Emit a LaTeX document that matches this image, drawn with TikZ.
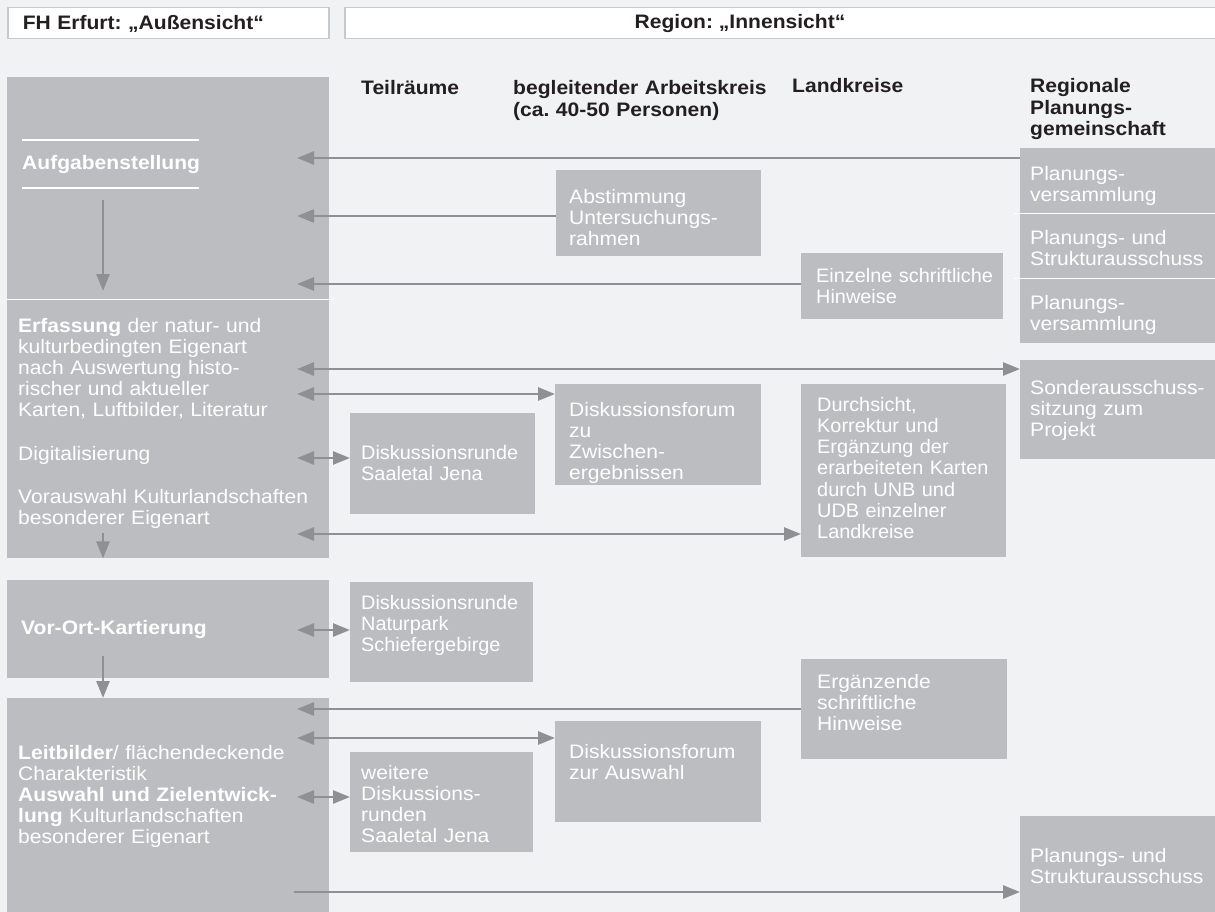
\documentclass[tikz,border=0pt]{standalone}
\usepackage{fontspec}
\setmainfont{Liberation Sans}[FakeStretch=1.08]
\newfontfamily\narrowsans{Liberation Sans}[FakeStretch=1.02]
\usepackage{tikz}
\usetikzlibrary{arrows.meta}
\hyphenpenalty=10000
\frenchspacing

\definecolor{boxgray}{HTML}{BCBDC0}
\definecolor{linegray}{HTML}{8F9094}
\definecolor{backgray}{HTML}{F1F2F4}
\definecolor{framegray}{HTML}{C8C9CB}
\definecolor{headdark}{HTML}{231F20}

\newcommand\hdfont{\fontsize{19.5}{21.2}\selectfont\bfseries}
\newcommand\nwfont{\narrowsans\fontsize{19.5}{21.2}\selectfont}

\begin{document}
\begin{tikzpicture}[x=1pt,y=-1pt,font=\fontsize{19.5}{21.2}\selectfont]

\tikzstyle{head}=[rectangle,draw=framegray,fill=white,line width=1.5pt,inner sep=0pt,anchor=north west,minimum height=31pt]
\tikzstyle{headtext}=[inner sep=0pt,text=headdark,font=\hdfont]
\tikzstyle{coltitle}=[headtext,anchor=base west,text width=260pt,align=left]
\tikzstyle{phase}=[rectangle,fill=boxgray,inner sep=0pt,anchor=north west,minimum width=322pt]
\tikzstyle{phasetext}=[anchor=base west,inner sep=0pt,text width=300pt,align=left,text=white]
\tikzstyle{talk}=[rectangle,fill=boxgray,text=white,align=left,anchor=north west,inner ysep=0pt]
\tikzstyle{rpg}=[talk,text width=180pt,inner xsep=10pt]
\tikzstyle{sep}=[draw=white,line width=1.5pt]
\tikzstyle{arr}=[draw=linegray,line width=2.6pt,>={Triangle[length=17pt,width=13pt]}]

\useasboundingbox (0,0) rectangle (1215,912);
\fill[backgray] (0,0) rectangle (1215,912);

\node[head,text width=291pt,inner xsep=15pt,text height=22pt,text depth=9pt,font=\hdfont,text=headdark] (fhhead) at (7,7) {FH Erfurt: „Außensicht“};
\node[head,minimum width=881pt] (reghead) at (344,7) {};
\node[headtext,anchor=base] (regtxt) at (740,29) {Region: „Innensicht“};

\node[coltitle] (teil) at (361,95) {Teilräume};
\node[coltitle] (akreis) at (513,95) {begleitender Arbeitskreis\\(ca. 40-50 Personen)};
\node[coltitle] (lkreis) at (792,93) {Landkreise};
\node[coltitle] (rpgtitle) at (1030,93) {Regionale\\Planungs-\\gemeinschaft};

\node[phase,minimum height=222pt] (aufg) at (7,77) {};
\node[phase,minimum height=259pt] (erf) at (7,299) {};
\node[phase,minimum height=98pt] (vorort) at (7,580) {};
\node[phase,minimum height=220pt] (leit) at (7,698) {};

\node[phasetext,font=\hdfont] (aufgtxt) at (22,170) {Aufgabenstellung};
\node[phasetext] (erftxt) at (18,332) {\textbf{Erfassung} der natur- und\\kulturbedingten Eigenart\\nach Auswertung histo-\\rischer und aktueller\\Karten, Luftbilder, Literatur};
\node[phasetext] (digtxt) at (18,460) {Digitalisierung};
\node[phasetext] (vortxt) at (18,503) {Vorauswahl Kulturlandschaften\\besonderer Eigenart};
\node[phasetext,font=\hdfont] (vorotxt) at (21,634) {Vor-Ort-Kartierung};
\node[phasetext] (leittxt) at (18,759) {\textbf{Leitbilder}/ flächendeckende\\Charakteristik\\\textbf{Auswahl und Zielentwick-}\\\textbf{lung} Kulturlandschaften\\besonderer Eigenart};

\node[talk,text width=179pt,inner xsep=13pt,text height=33pt,text depth=53pt] (abst) at (556,170) {Abstimmung\\Untersuchungs-\\rahmen};
\node[talk,text width=184pt,inner xsep=9pt,text height=29pt,text depth=37pt,font=\nwfont] (hinw) at (801,253) {\hspace*{6pt}Einzelne schriftliche\\\hspace*{6pt}Hinweise};
\node[talk,text width=178pt,inner xsep=14pt,text height=32pt,text depth=69pt] (forum1) at (555,384) {Diskussionsforum\\zu\\Zwischen-\\ergebnissen};
\node[talk,text width=163pt,inner xsep=11pt,text height=46pt,text depth=55pt,font=\nwfont] (runde1) at (350,413) {Diskussionsrunde\\Saaletal Jena};
\node[talk,text width=173pt,inner xsep=16pt,text height=27pt,text depth=146pt,font=\nwfont] (durch) at (801,384) {Durchsicht,\\Korrektur und\\Ergänzung der\\erarbeiteten Karten\\durch UNB und\\UDB einzelner\\Landkreise};
\node[talk,text width=161pt,inner xsep=11pt,text height=27pt,text depth=73pt,font=\nwfont] (runde2) at (350,582) {Diskussionsrunde\\Naturpark\\Schiefergebirge};
\node[talk,text width=174pt,inner xsep=16pt,text height=29pt,text depth=71pt] (erg) at (801,659) {Ergänzende\\schriftliche\\Hinweise};
\node[talk,text width=178pt,inner xsep=14pt,text height=37pt,text depth=64pt] (forum2) at (555,721) {Diskussionsforum\\zur Auswahl};
\node[talk,text width=161pt,inner xsep=11pt,text height=27pt,text depth=73pt] (runde3) at (350,752) {weitere\\Diskussions-\\runden\\Saaletal Jena};

\node[rpg,text height=32pt,text depth=33pt] (pv1) at (1020,148) {Planungs-\\versammlung};
\node[rpg,text height=31pt,text depth=34pt] (pua1) at (1020,213) {Planungs- und\\Strukturausschuss};
\node[rpg,text height=31pt,text depth=34pt] (pv2) at (1020,278) {Planungs-\\versammlung};
\node[rpg,text height=34pt,text depth=65pt] (sonder) at (1020,360) {Sonderausschuss-\\sitzung zum\\Projekt};
\node[rpg,text height=46pt,text depth=54pt] (pua2) at (1020,816) {Planungs- und\\Strukturausschuss};

\draw[sep] ([xshift=5pt]aufg.south east) -- (aufg.south west);
\draw[sep] ([xshift=-6pt]pv1.south west) -- (pv1.south east);
\draw[sep] ([xshift=-6pt]pua1.south west) -- (pua1.south east);
\draw[sep] ([yshift=30pt]aufgtxt.base west) -- ++(177,0);
\draw[sep] ([yshift=-18pt]aufgtxt.base west) -- ++(177,0);

\coordinate (d1) at (103,200);
\coordinate (d1e) at (103,291);
\coordinate (d2) at (103,533);
\coordinate (d3) at (103,656);
\draw[arr,->] (d1) -- (d1e);
\draw[arr,->] (d2) -- (d2 |- erf.south);
\draw[arr,->] (d3) -- (d3 |- leit.north);

\coordinate (t1) at (297,158);
\coordinate (t2) at (297,216);
\coordinate (t3) at (297,284);
\coordinate (t4) at (297,369);
\coordinate (t5) at (297,394);
\coordinate (t6) at (297,458);
\coordinate (t7) at (297,534);
\coordinate (t8) at (297,630);
\coordinate (t9) at (297,709);
\coordinate (t10) at (297,738);
\coordinate (t11) at (297,797);
\coordinate (t12) at (294,892);
\draw[arr,->] (pv1.west |- t1) -- (t1);
\draw[arr,->] (abst.west |- t2) -- (t2);
\draw[arr,->] (hinw.west |- t3) -- (t3);
\draw[arr,<->] (t4) -- (sonder.west |- t4);
\draw[arr,<->] (t5) -- (forum1.west |- t5);
\draw[arr,<->] (t6) -- (runde1.west |- t6);
\draw[arr,<->] (t7) -- (durch.west |- t7);
\draw[arr,<->] (t8) -- (runde2.west |- t8);
\draw[arr,->] (erg.west |- t9) -- (t9);
\draw[arr,<->] (t10) -- (forum2.west |- t10);
\draw[arr,<->] (t11) -- (runde3.west |- t11);
\draw[arr,->] (t12) -- (pua2.west |- t12);
\end{tikzpicture}
\end{document}
